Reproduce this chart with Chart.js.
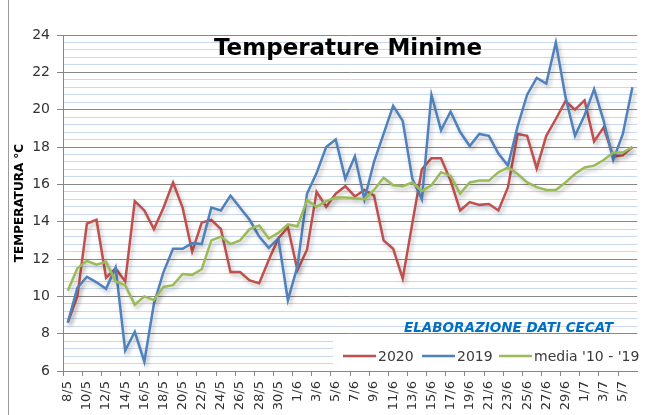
<!DOCTYPE html>
<html>
<head>
<meta charset="utf-8">
<script src="https://cdn.jsdelivr.net/npm/chart.js@4.4.1/dist/chart.umd.min.js"></script>
<style>
  html, body { margin: 0; padding: 0; background: #fff; overflow: hidden; }
  #wrap { width: 650px; height: 415px; overflow: hidden; }
</style>
</head>
<body>
<div id="wrap"><canvas id="tmin" width="653" height="415"></canvas></div>
<script>
// giorni (8 maggio - 6 luglio)
var days = ['8/5','9/5','10/5','11/5','12/5','13/5','14/5','15/5','16/5','17/5','18/5','19/5','20/5','21/5',
            '22/5','23/5','24/5','25/5','26/5','27/5','28/5','29/5','30/5','31/5',
            '1/6','2/6','3/6','4/6','5/6','6/6','7/6','8/6','9/6','10/6','11/6','12/6','13/6','14/6','15/6',
            '16/6','17/6','18/6','19/6','20/6','21/6','22/6','23/6','24/6','25/6','26/6','27/6','28/6','29/6','30/6',
            '1/7','2/7','3/7','4/7','5/7','6/7'];

var t2020 = [8.6, 10.0, 13.9, 14.1, 11.0, 11.5, 10.8, 15.1, 14.6, 13.6, 14.75, 16.1, 14.75, 12.4,
             13.95, 14.1, 13.6, 11.3, 11.3, 10.85, 10.7, 11.95, 13.1, 13.7,
             11.4, 12.5, 15.6, 14.8, 15.5, 15.9, 15.35, 15.7, 15.4, 13.0, 12.55, 10.95, 13.9, 16.8, 17.4,
             17.4, 16.2, 14.6, 15.05, 14.9, 14.95, 14.6, 15.85, 18.7, 18.6, 16.85, 18.6, 19.5, 20.45, 20.0,
             20.5, 18.3, 19.05, 17.5, 17.55, 18.0];

var t2019 = [8.6, 10.45, 11.05, 10.75, 10.4, 11.55, 7.1, 8.1, 6.5, 9.6, 11.3, 12.55, 12.55, 12.85,
             12.8, 14.75, 14.6, 15.4, 14.75, 14.1, 13.2, 12.6, 13.1, 9.8,
             11.6, 15.5, 16.6, 18.0, 18.4, 16.3, 17.5, 15.2, 17.2, 18.7, 20.2, 19.4, 16.3, 15.2, 20.8,
             18.9, 19.9, 18.8, 18.05, 18.7, 18.6, 17.65, 17.0, 19.1, 20.8, 21.7, 21.4, 23.6, 20.7, 18.6,
             19.7, 21.1, 19.4, 17.3, 18.7, 21.2];

var media = [10.3, 11.5, 11.9, 11.7, 11.85, 10.8, 10.6, 9.55, 10.0, 9.8, 10.5, 10.6, 11.2, 11.15,
             11.45, 13.0, 13.2, 12.8, 13.0, 13.6, 13.8, 13.1, 13.4, 13.85,
             13.75, 15.15, 14.8, 15.1, 15.3, 15.3, 15.25, 15.2, 15.7, 16.35, 15.95, 15.9, 16.1, 15.65, 15.95,
             16.65, 16.45, 15.5, 16.1, 16.2, 16.2, 16.65, 16.9, 16.55, 16.1, 15.85, 15.7, 15.7, 16.1, 16.55,
             16.9, 17.0, 17.3, 17.7, 17.7, 18.0];

const RED = '#c0504d', BLUE = '#4f81bd', GREEN = '#9bbb59';
const MAJOR = '#878787', MINOR = '#c9d8ee';

function isMajor(v) { return Math.abs(v / 2 - Math.round(v / 2)) < 1e-6; }

// ombra sotto le linee
const shadow = {
    id: 'shadow',
    beforeDatasetDraw(chart) {
        const ctx = chart.ctx;
        ctx.save();
        ctx.shadowColor = 'rgba(0,0,0,0.25)';
        ctx.shadowBlur = 4;
        ctx.shadowOffsetX = 2;
        ctx.shadowOffsetY = 3;
    },
    afterDatasetDraw(chart) { chart.ctx.restore(); }
};

// titolo, scritta e legenda dentro il grafico
const decor = {
    id: 'decor',
    afterDraw(chart) {
        const ctx = chart.ctx;
        ctx.save();
        // bordo esterno
        ctx.strokeStyle = '#9a9a9a';
        ctx.lineWidth = 1;
        ctx.beginPath(); ctx.moveTo(8.5, 0); ctx.lineTo(8.5, 415); ctx.stroke();

        ctx.fillStyle = '#000';
        ctx.textAlign = 'center';
        ctx.textBaseline = 'alphabetic';
        ctx.font = 'bold 23px "DejaVu Sans"';
        ctx.fillText('Temperature Minime', 348, 55);

        ctx.fillStyle = '#0070c0';
        ctx.font = 'italic bold 13.5px "DejaVu Sans"';
        ctx.textAlign = 'left';
        ctx.fillText('ELABORAZIONE DATI CECAT', 404, 332);

        ctx.fillStyle = '#fff';
        ctx.fillRect(333, 338, 330, 32);

        const items = [['2020', RED, 343], ['2019', BLUE, 422], ["media '10 - '19", GREEN, 499]];
        ctx.font = '14px "DejaVu Sans"';
        ctx.textBaseline = 'middle';
        items.forEach(function(it) {
            ctx.strokeStyle = it[1];
            ctx.lineWidth = 2.5;
            ctx.beginPath(); ctx.moveTo(it[2], 356); ctx.lineTo(it[2] + 33, 356); ctx.stroke();
            ctx.fillStyle = '#3a3a3a';
            ctx.fillText(it[0], it[2] + 35, 357);
        });
        ctx.restore();
    }
};

const data = {
    labels: days,
    datasets: [{
        label: '2020', data: t2020, borderColor: RED, order: 3
    }, {
        label: '2019', data: t2019, borderColor: BLUE, order: 2
    }, {
        label: "media '10 - '19", data: media, borderColor: GREEN, order: 1
    }]
};

const config = {
    type: 'line',
    data,
    options: {
        responsive: false,
        animation: false,
        layout: { padding: { top: 35, right: 0, bottom: 0, left: 0 } },
        elements: {
            line: { borderWidth: 2.5, tension: 0, fill: false },
            point: { radius: 0 }
        },
        plugins: { legend: { display: false }, tooltip: { enabled: false } },
        scales: {
            x: {
                offset: true,
                grid: {
                    offset: true,
                    drawOnChartArea: false,
                    tickLength: 5,
                    color: function(c) { return c.index % 2 === 0 ? MAJOR : 'rgba(0,0,0,0)'; }
                },
                border: { color: MAJOR },
                ticks: {
                    autoSkip: false,
                    minRotation: 90,
                    maxRotation: 90,
                    padding: 5,
                    color: '#333',
                    font: { family: 'DejaVu Sans', size: 13 },
                    callback: function(v, i) { return i % 2 === 0 ? this.getLabelForValue(v) : ''; }
                },
                afterFit: function(s) { s.height = 44; }
            },
            y: {
                min: 6,
                max: 24,
                grid: {
                    tickLength: 6,
                    color: function(c) { return isMajor(c.tick.value) ? MAJOR : MINOR; },
                    tickColor: function(c) { return isMajor(c.tick.value) ? MAJOR : 'rgba(0,0,0,0)'; }
                },
                border: { color: MAJOR },
                ticks: {
                    stepSize: 0.4,
                    autoSkip: false,
                    padding: 7,
                    color: '#333',
                    font: { family: 'DejaVu Sans', size: 14 },
                    callback: function(v) { return isMajor(v) ? String(Math.round(v)) : ''; }
                },
                title: {
                    display: true,
                    text: 'TEMPERATURA °C',
                    color: '#000',
                    font: { family: 'DejaVu Sans', size: 12, weight: 'bold' },
                    padding: { top: 13, bottom: 0 }
                },
                afterFit: function(s) { s.width = 63; }
            }
        }
    },
    plugins: [shadow, decor]
};

var myChart = new Chart(document.getElementById('tmin'), config);
</script>
</body>
</html>
